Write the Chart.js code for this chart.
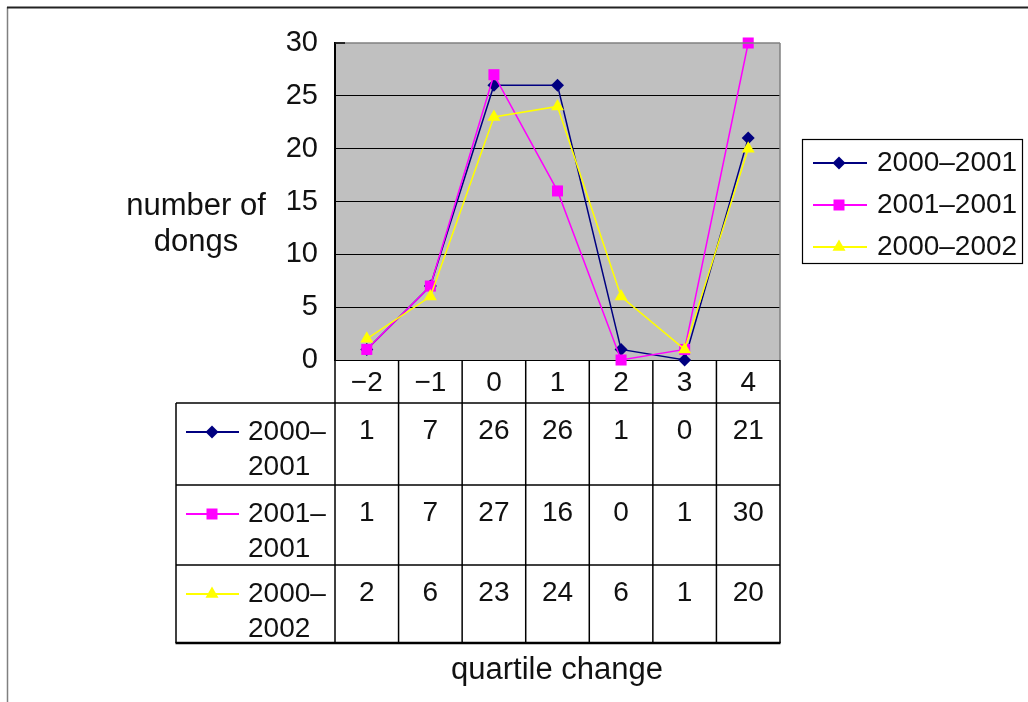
<!DOCTYPE html>
<html>
<head>
<meta charset="utf-8">
<script src="https://cdn.jsdelivr.net/npm/chart.js@4.4.0/dist/chart.umd.min.js"></script>
<style>
  html, body { margin: 0; padding: 0; background: #fff; overflow: hidden; }
  canvas { display: block; }
</style>
</head>
<body>
<canvas id="c" width="1028" height="702"></canvas>
<script>
// ---- data ----
const categories = ['−2', '−1', '0', '1', '2', '3', '4'];
const seriesNames = ['2000–2001', '2001–2001', '2000–2002'];
const values2000to2001 = [1, 7, 26, 26, 1, 0, 21];
const values2001to2001 = [1, 7, 27, 16, 0, 1, 30];
const values2000to2002 = [2, 6, 23, 24, 6, 1, 20];
const yTickValues = [0, 5, 10, 15, 20, 25, 30];
const yTitleLines = ['number of', 'dongs'];
const xTitle = 'quartile change';

// ---- styles ----
const FONT = '"Liberation Sans", Arial, sans-serif';
const seriesValues = [values2000to2001, values2001to2001, values2000to2002];
const seriesColors = ['#000080', '#FF00FF', '#FFFF00'];
const seriesShapes = ['rectRot', 'rect', 'triangle'];
const seriesRadius = [6.5, 7.8, 7.5];

function drawMarker(ctx, shape, x, y, color) {
  ctx.save();
  ctx.fillStyle = color;
  ctx.beginPath();
  if (shape === 'rectRot') {
    const r = 6.5;
    ctx.moveTo(x, y - r); ctx.lineTo(x + r, y); ctx.lineTo(x, y + r); ctx.lineTo(x - r, y);
  } else if (shape === 'rect') {
    const h = 5.5;
    ctx.rect(x - h, y - h, 2 * h, 2 * h);
  } else {
    const r = 7.5;
    ctx.moveTo(x, y - r);
    ctx.lineTo(x + r * Math.sin(Math.PI * 2 / 3), y + r / 2);
    ctx.lineTo(x - r * Math.sin(Math.PI * 2 / 3), y + r / 2);
  }
  ctx.closePath();
  ctx.fill();
  ctx.restore();
}

function hline(ctx, x1, x2, y) { ctx.beginPath(); ctx.moveTo(x1, y); ctx.lineTo(x2, y); ctx.stroke(); }
function vline(ctx, x, y1, y2) { ctx.beginPath(); ctx.moveTo(x, y1); ctx.lineTo(x, y2); ctx.stroke(); }

// background, frame, data table, legend and titles
const decorations = {
  id: 'decorations',
  beforeDraw(chart) {
    const { ctx, chartArea: a } = chart;
    ctx.save();
    ctx.fillStyle = '#fff';
    ctx.fillRect(0, 0, chart.width, chart.height);
    ctx.fillStyle = '#C0C0C0';
    ctx.fillRect(a.left, a.top, a.right - a.left, a.bottom - a.top);
    // outer frame
    ctx.strokeStyle = '#808080'; ctx.lineWidth = 1.5;
    vline(ctx, 7.5, 7, chart.height);
    ctx.strokeStyle = '#222'; ctx.lineWidth = 2;
    hline(ctx, 7, chart.width, 7.5);
    ctx.restore();
  },
  afterDatasetsDraw(chart) {
    const { ctx, chartArea: a } = chart;
    ctx.save();
    // plot border top / right
    ctx.strokeStyle = '#808080'; ctx.lineWidth = 1.5;
    hline(ctx, a.left, a.right, a.top);
    vline(ctx, a.right, a.top, a.bottom);
    // inward tick mark at the top
    ctx.strokeStyle = '#000'; ctx.lineWidth = 1.5;
    hline(ctx, a.left, a.left + 10, a.top);
    ctx.restore();
  },
  afterDraw(chart) {
    const { ctx, chartArea: a } = chart;
    const xs = chart.scales.x;
    const n = categories.length;
    const colW = (a.right - a.left) / n;
    const tableLeft = 176;
    const catBottom = 403;
    const rowTops = [403, 485, 565];
    const tableBottom = 643;

    ctx.save();
    ctx.strokeStyle = '#000';
    ctx.lineWidth = 1.5;
    // vertical column lines
    for (let i = 0; i <= n; i++) {
      vline(ctx, a.left + i * colW, a.bottom, tableBottom);
    }
    vline(ctx, tableLeft, catBottom, tableBottom);
    // horizontal row lines
    rowTops.forEach(y => hline(ctx, tableLeft, a.right, y));
    ctx.lineWidth = 2.5;
    hline(ctx, tableLeft - 0.5, a.right + 0.5, tableBottom);

    ctx.fillStyle = '#111';
    ctx.textBaseline = 'middle';
    ctx.textAlign = 'center';
    ctx.font = '28px ' + FONT;
    categories.forEach((c, i) => ctx.fillText(c, xs.getPixelForValue(i), 383));

    seriesValues.forEach((vals, s) => {
      const top = rowTops[s];
      ctx.textAlign = 'center';
      vals.forEach((v, i) => ctx.fillText(String(v), xs.getPixelForValue(i), top + 28));
      // key
      ctx.strokeStyle = seriesColors[s]; ctx.lineWidth = 2;
      hline(ctx, 186, 239, top + 29);
      drawMarker(ctx, seriesShapes[s], 212, top + 29, seriesColors[s]);
      const cut = seriesNames[s].indexOf('–') + 1;
      ctx.textAlign = 'left';
      ctx.fillText(seriesNames[s].slice(0, cut), 248, top + 29);
      ctx.fillText(seriesNames[s].slice(cut), 248, top + 64);
    });

    // legend
    ctx.strokeStyle = '#000'; ctx.lineWidth = 1.2;
    ctx.strokeRect(802.5, 139.5, 220, 124);
    const legendY = [163, 205, 247];
    seriesNames.forEach((name, s) => {
      ctx.strokeStyle = seriesColors[s]; ctx.lineWidth = 2;
      hline(ctx, 813, 867, legendY[s]);
      drawMarker(ctx, seriesShapes[s], 839, legendY[s], seriesColors[s]);
      ctx.textAlign = 'left';
      ctx.fillStyle = '#111';
      ctx.fillText(name, 877, legendY[s]);
    });

    // axis titles
    ctx.font = '31px ' + FONT;
    ctx.textAlign = 'center';
    ctx.fillText(yTitleLines[0], 196, 206);
    ctx.fillText(yTitleLines[1], 196, 242);
    ctx.fillText(xTitle, 557, 670);
    ctx.restore();
  }
};

const datasets = seriesValues.map((vals, s) => ({
  label: seriesNames[s],
  data: vals,
  borderColor: seriesColors[s],
  backgroundColor: seriesColors[s],
  borderWidth: 1.5,
  pointStyle: seriesShapes[s],
  pointRadius: seriesRadius[s],
  pointBorderWidth: 0,
  pointBackgroundColor: seriesColors[s],
  pointBorderColor: seriesColors[s],
  tension: 0,
  clip: false,
  order: seriesValues.length - s
}));

new Chart(document.getElementById('c'), {
  type: 'line',
  data: { labels: categories, datasets },
  plugins: [decorations],
  options: {
    responsive: false,
    animation: false,
    devicePixelRatio: 1,
    layout: { padding: { left: 0, top: 43, right: 248, bottom: 342 } },
    plugins: { legend: { display: false }, tooltip: { enabled: false }, title: { display: false } },
    scales: {
      x: { type: 'category', display: false, offset: true },
      y: {
        min: 0, max: 30,
        afterFit(scale) { scale.width = 335; },
        afterBuildTicks(scale) { scale.ticks = yTickValues.map(v => ({ value: v })); },
        border: { display: true, color: '#000', width: 2 },
        grid: {
          drawTicks: false,
          lineWidth: 1,
          color: c => (c.tick && c.tick.value === 30) ? 'rgba(0,0,0,0)' : '#000'
        },
        ticks: {
          padding: 17,
          color: '#111',
          font: { family: FONT, size: 29 }
        }
      }
    }
  }
});
</script>
</body>
</html>
